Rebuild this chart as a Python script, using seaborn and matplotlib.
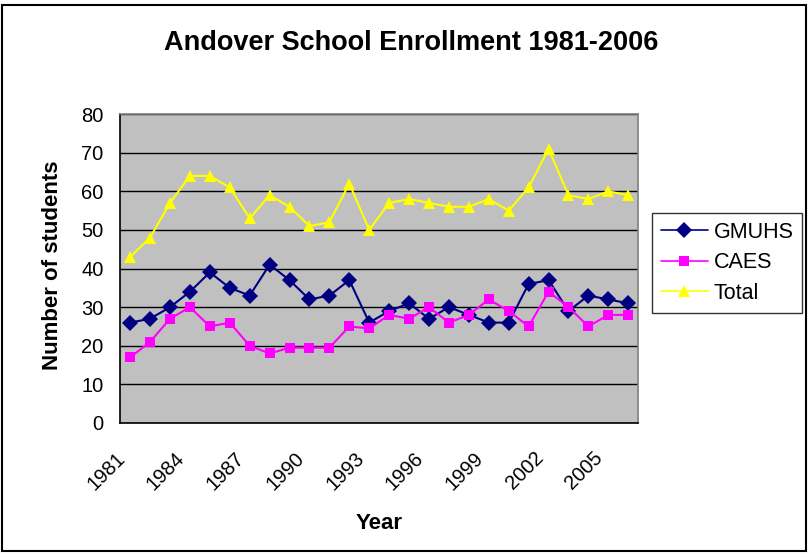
import matplotlib
matplotlib.use("Agg")
import matplotlib.pyplot as plt
import matplotlib.transforms as mtransforms
import seaborn as sns
import pandas as pd
import numpy as np

years = list(range(1981, 2007))
gmuhs = [26, 27, 30, 34, 39, 35, 33, 41, 37, 32, 33, 37, 26, 29, 31, 27, 30, 28, 26, 26, 36, 37, 29, 33, 32, 31]
caes = [17, 21, 27, 30, 25, 26, 20, 18, 19.5, 19.5, 19.5, 25, 24.5, 28, 27, 30, 26, 28, 32, 29, 25, 34, 30, 25, 28, 28]
total = [43, 48, 57, 64, 64, 61, 53, 59, 56, 51, 52, 62, 50, 57, 58, 57, 56, 56, 58, 55, 61, 71, 59, 58, 60, 59]
tick_years = list(range(1981, 2006, 3))

series = {"GMUHS": gmuhs, "CAES": caes, "Total": total}
colors = {"GMUHS": "#000080", "CAES": "#FF00FF", "Total": "#FFFF00"}
markers = {"GMUHS": "D", "CAES": "s", "Total": "^"}
msizes = {"GMUHS": 8, "CAES": 7, "Total": 9}

rows = []
for name, vals in series.items():
    for i, v in enumerate(vals):
        rows.append({"pos": i, "year": years[i], "value": v, "series": name})
df = pd.DataFrame(rows)

sns.set_theme(style="white")
plt.rcParams["font.family"] = ["Liberation Sans", "DejaVu Sans"]
plt.rcParams.update({"text.color": "black", "axes.labelcolor": "black",
                     "xtick.color": "black", "ytick.color": "black"})

fig = plt.figure(figsize=(8.12, 5.54), dpi=100)
ax = fig.add_axes([0.148, 0.2365, 0.638, 0.5575])
ax.set_facecolor("#C0C0C0")

# one call per series so each marker keeps its own size
for name in series:
    sub = df[df["series"] == name]
    sns.lineplot(data=sub, x="pos", y="value", color=colors[name], marker=markers[name],
                 markersize=msizes[name], markeredgewidth=0, linewidth=1.5, ax=ax)

ax.set_xlim(-0.5, len(years) - 0.5)
ax.set_ylim(0, 80)
ax.set_yticks(range(0, 81, 10))
ax.yaxis.grid(True, color="black", linewidth=1)
ax.xaxis.grid(False)
ax.set_axisbelow(True)

ax.set_xticks([years.index(y) for y in tick_years])
ax.set_xticklabels([str(y) for y in tick_years], rotation=45, ha="right",
                   rotation_mode="anchor", fontsize=14.5)
ax.set_xticks(np.arange(-0.5, len(years), 1.0), minor=True)
ax.tick_params(axis="x", which="major", length=0, pad=14)
ax.tick_params(axis="x", which="minor", length=5, width=1, color="black", direction="out")
ax.tick_params(axis="y", length=5, width=1, color="black", direction="out", labelsize=14.5, pad=7)

# Excel puts the rotated year labels a little left of the category centre
shift = mtransforms.ScaledTranslation(-0.15, -0.06, fig.dpi_scale_trans)
for lbl in ax.get_xticklabels():
    lbl.set_transform(lbl.get_transform() + shift)

for s in ["top", "right"]:
    ax.spines[s].set_color("#808080")
    ax.spines[s].set_linewidth(1.2)
for s in ["left", "bottom"]:
    ax.spines[s].set_color("black")
    ax.spines[s].set_linewidth(1.2)

ax.set_xlabel("Year", fontsize=16, fontweight="bold")
ax.set_ylabel("Number of students", fontsize=16, fontweight="bold")
ax.xaxis.set_label_coords(0.5, -0.291)
ax.yaxis.set_label_coords(-0.110, 0.51)
fig.text(0.507, 0.922, "Andover School Enrollment 1981-2006", ha="center", va="center",
         fontsize=19.5, fontweight="bold")

handles = [plt.Line2D([], [], color=colors[n], marker=markers[n], markersize=msizes[n],
                      markeredgewidth=0, linewidth=1.2) for n in series]
leg = fig.legend(handles, list(series.keys()), loc="upper left",
                 bbox_to_anchor=(0.803, 0.6155), fontsize=15.5, frameon=True,
                 fancybox=False, edgecolor="black", borderpad=0.4,
                 handlelength=2.2, handletextpad=0.25, labelspacing=0.45,
                 borderaxespad=0)
leg.get_frame().set_linewidth(1)

fig.patches.append(plt.Rectangle((0.0025, 0.0054), 0.990, 0.9856, transform=fig.transFigure,
                                 fill=False, edgecolor="black", linewidth=1.5))

fig.savefig("out.png", dpi=100, facecolor="white")
